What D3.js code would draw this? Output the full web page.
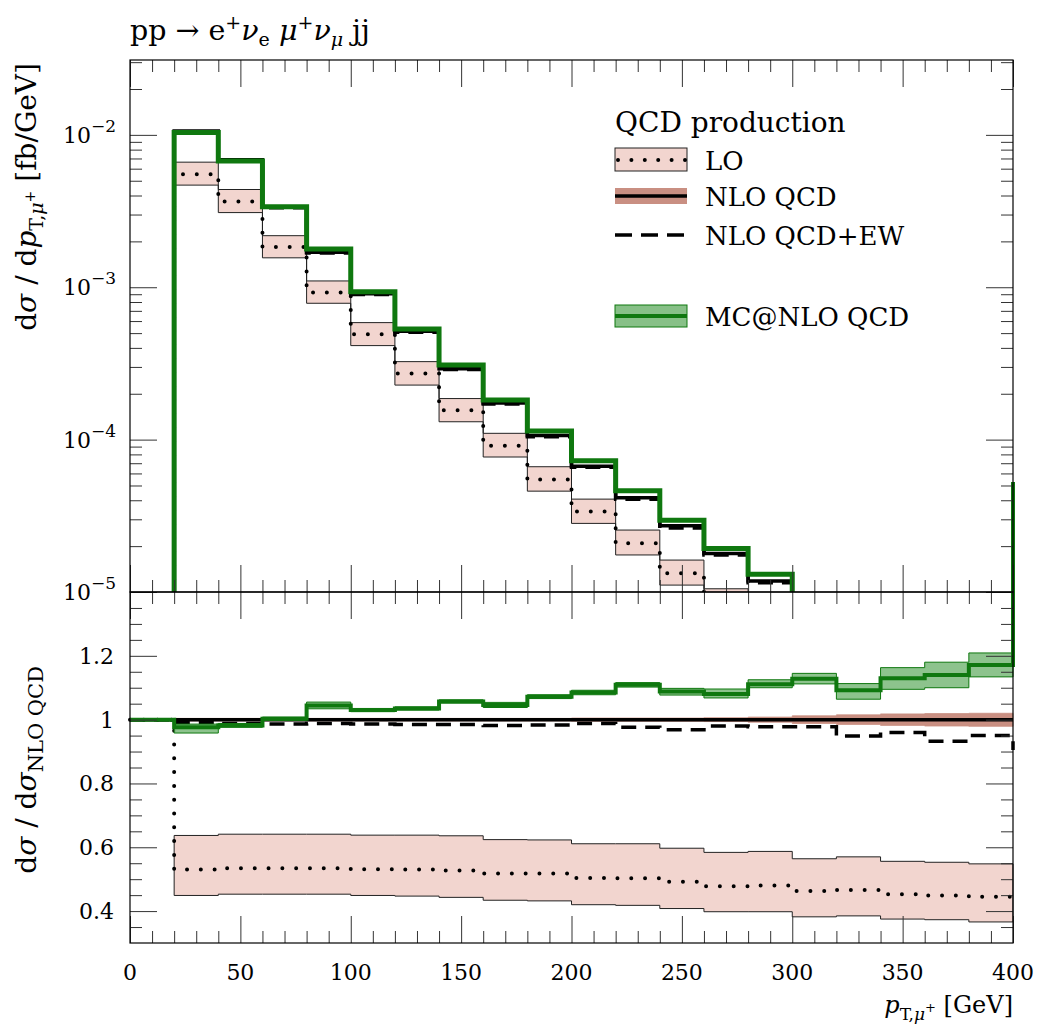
<!DOCTYPE html>
<html>
<head>
<meta charset="utf-8">
<script src="https://cdn.jsdelivr.net/npm/d3@7"></script>
<style>
  body { margin: 0; background: #fff; }
  text { font-family: "DejaVu Serif", "Liberation Serif", serif; fill: #000; }
</style>
</head>
<body>
<svg id="chart" width="1046" height="1033"></svg>
<script>

// bin edges in GeV, 20 bins
var binEdges = [0, 20, 40, 60, 80, 100, 120, 140, 160, 180, 200, 220, 240, 260, 280, 300, 320, 340, 360, 380, 400];

// upper panel, dsigma/dpT [fb/GeV]; null = empty bin
var mcUpper  = [null, 0.01035, 0.00675, 0.00338, 0.00178, 0.000935, 0.000532, 0.000309, 0.000182, 0.000114, 7.26e-5, 4.61e-5, 2.96e-5, 1.93e-5, 1.31e-5, 8.5e-6, 5.5e-6, 3.7e-6, 2.5e-6, 1.75e-6];
var nloUpper = [null, 0.01060, 0.00687, 0.00337, 0.00170, 0.000908, 0.000514, 0.000292, 0.000174, 1.063e-4, 6.69e-5, 4.16e-5, 2.72e-5, 1.79e-5, 1.18e-5, 7.5e-6, 5.0e-6, 3.3e-6, 2.2e-6, 1.5e-6];
var ewUpper  = [null, 0.01050, 0.00679, 0.00333, 0.00168, 0.000895, 0.000506, 0.000288, 0.000171, 1.045e-4, 6.58e-5, 4.06e-5, 2.63e-5, 1.75e-5, 1.15e-5, 7.3e-6, 4.75e-6, 3.15e-6, 2.05e-6, 1.42e-6];
var loUpper  = [null, 0.00552, 0.00365, 0.00184, 0.000923, 0.000491, 0.000272, 0.000156, 9.12e-5, 5.48e-5, 3.37e-5, 2.09e-5, 1.33e-5, 8.6e-6, 5.7e-6, 3.5e-6, 2.3e-6, 1.5e-6, 1.0e-6, 0.67e-6];
var loUpperHi = [null, 0.00662, 0.00438, 0.00218, 0.00110, 0.000586, 0.000325, 0.000186, 1.10e-4, 6.64e-5, 4.07e-5, 2.55e-5, 1.62e-5, 1.05e-5, 6.9e-6, 4.2e-6, 2.8e-6, 1.8e-6, 1.2e-6, 0.82e-6];
var loUpperLo = [null, 0.00468, 0.00309, 0.00156, 0.000785, 0.000414, 0.000228, 0.000131, 7.69e-5, 4.59e-5, 2.82e-5, 1.75e-5, 1.11e-5, 7.1e-6, 4.7e-6, 2.9e-6, 1.9e-6, 1.25e-6, 0.83e-6, 0.55e-6];

// lower panel, ratio to NLO QCD
var mcRatio   = [1, 0.976, 0.982, 1.003, 1.044, 1.030, 1.035, 1.057, 1.046, 1.072, 1.085, 1.109, 1.088, 1.080, 1.111, 1.128, 1.092, 1.130, 1.140, 1.171];
var mcRatioLo = [1, 0.958, 0.976, 0.998, 1.034, 1.025, 1.030, 1.052, 1.038, 1.066, 1.078, 1.102, 1.077, 1.068, 1.100, 1.112, 1.064, 1.095, 1.100, 1.134];
var mcRatioHi = [1, 0.986, 0.988, 1.008, 1.055, 1.035, 1.040, 1.062, 1.054, 1.078, 1.092, 1.116, 1.098, 1.096, 1.125, 1.145, 1.113, 1.163, 1.180, 1.209];
var mcRatioEnd = 1.745;

var nloRatio   = [1, 1, 1, 1, 1, 1, 1, 1, 1, 1, 1, 1, 1, 1, 1, 1, 1, 1, 1, 1];
var nloRatioLo = [null, 0.996, 0.996, 0.996, 0.996, 0.996, 0.996, 0.996, 0.996, 0.996, 0.995, 0.995, 0.995, 0.994, 0.992, 0.988, 0.985, 0.982, 0.980, 0.979];
var nloRatioHi = [null, 1.004, 1.004, 1.004, 1.004, 1.004, 1.004, 1.004, 1.004, 1.004, 1.005, 1.005, 1.005, 1.006, 1.008, 1.012, 1.015, 1.018, 1.019, 1.020];

var ewRatio = [1, 0.990, 0.988, 0.986, 0.988, 0.986, 0.985, 0.985, 0.982, 0.983, 0.988, 0.976, 0.968, 0.980, 0.978, 0.978, 0.949, 0.960, 0.932, 0.950];
var ewRatioEnd = 0.905;

var loRatio   = [1, 0.530, 0.534, 0.534, 0.534, 0.531, 0.530, 0.527, 0.518, 0.518, 0.504, 0.503, 0.492, 0.478, 0.480, 0.463, 0.466, 0.453, 0.449, 0.445];
var loRatioHi = [null, 0.637, 0.641, 0.641, 0.641, 0.638, 0.638, 0.636, 0.624, 0.623, 0.611, 0.611, 0.597, 0.584, 0.587, 0.564, 0.570, 0.556, 0.553, 0.548];
var loRatioLo = [null, 0.449, 0.453, 0.453, 0.453, 0.449, 0.447, 0.443, 0.434, 0.432, 0.420, 0.418, 0.408, 0.398, 0.398, 0.382, 0.385, 0.375, 0.373, 0.366];

var xMajor = [0, 50, 100, 150, 200, 250, 300, 350, 400];
var upperDecades = [1e-5, 1e-4, 1e-3, 1e-2];
var upperLabels = ["\u22125", "\u22124", "\u22123", "\u22122"];
var ratioTicks = [0.4, 0.6, 0.8, 1, 1.2];
var ratioLabels = ["0.4", "0.6", "0.8", "1", "1.2"];

var legendItems = ["LO", "NLO QCD", "NLO QCD+EW", "MC@NLO QCD"];

var GREEN = "#0f780f", GREEN_BAND = "#87c087", PINK = "#f2d5cf", BROWN = "#c98f82";

var svg = d3.select("#chart");

var x = d3.scaleLinear().domain([0, 400]).range([130, 1013]);
var yTop = d3.scaleLog().domain([1e-5, 0.031]).range([592, 60]);
var yRat = d3.scaleLinear().domain([0.3, 1.4]).range([943, 592]);

svg.append("defs").append("clipPath").attr("id", "clipTop")
  .append("rect").attr("x", x(0)).attr("y", yTop.range()[1])
  .attr("width", x(400) - x(0)).attr("height", yTop.range()[0] - yTop.range()[1]);

// step line points from per-bin values
function stepPts(vals, floor) {
  var pts = [];
  vals.forEach(function(v, i) {
    if (v == null) return;
    if (pts.length == 0 && floor != null) pts.push([binEdges[i], floor]);
    pts.push([binEdges[i], v]);
    pts.push([binEdges[i + 1], v]);
  });
  return pts;
}
function bandPts(lo, hi) {
  return stepPts(hi).concat(stepPts(lo).reverse());
}

function drawPanel(g, y, d) {
  var line = d3.line().x(function(p) { return x(p[0]); }).y(function(p) { return y(p[1]); });

  g.append("path").attr("d", line(bandPts(d.loLo, d.loHi)) + "Z")
    .attr("fill", PINK).attr("stroke", "#222").attr("stroke-width", 1);
  g.append("path").attr("d", line(stepPts(d.lo, d.floor)))
    .attr("fill", "none").attr("stroke", "#000").attr("stroke-width", 4)
    .attr("stroke-linecap", "round").attr("stroke-dasharray", "0 13.8");

  if (d.nloLo) {
    g.append("path").attr("d", line(bandPts(d.nloLo, d.nloHi)) + "Z")
      .attr("fill", BROWN).attr("stroke", BROWN).attr("stroke-width", 0.8);
  }
  g.append("path").attr("d", line(stepPts(d.nlo, d.floor)))
    .attr("fill", "none").attr("stroke", "#000").attr("stroke-width", 3.5);

  var ew = stepPts(d.ew, d.floor);
  if (d.ewEnd != null) ew.push([400, d.ewEnd]);
  g.append("path").attr("d", line(ew))
    .attr("fill", "none").attr("stroke", "#000").attr("stroke-width", 3.5)
    .attr("stroke-dasharray", "15 9");

  if (d.mcLo) {
    g.append("path").attr("d", line(bandPts(d.mcLo, d.mcHi)) + "Z")
      .attr("fill", GREEN_BAND).attr("fill-opacity", 0.95).attr("stroke", GREEN).attr("stroke-width", 1);
  }
  var mc = stepPts(d.mc, d.floor);
  if (d.mcEnd != null) mc.push([400, d.mcEnd]);
  g.append("path").attr("d", line(mc))
    .attr("fill", "none").attr("stroke", GREEN).attr("stroke-width", d.mcWidth);
}

// upper panel
var gTop = svg.append("g").attr("clip-path", "url(#clipTop)");
drawPanel(gTop, yTop, {
  floor: 1e-7,
  lo: loUpper, loLo: loUpperLo, loHi: loUpperHi,
  nlo: nloUpper, ew: ewUpper, mc: mcUpper, mcWidth: 5
});

// lower panel
var gBot = svg.append("g");
drawPanel(gBot, yRat, {
  lo: loRatio, loLo: loRatioLo, loHi: loRatioHi,
  nlo: nloRatio, nloLo: nloRatioLo, nloHi: nloRatioHi,
  ew: ewRatio, ewEnd: ewRatioEnd,
  mc: mcRatio, mcLo: mcRatioLo, mcHi: mcRatioHi, mcEnd: mcRatioEnd, mcWidth: 4
});

// ticks
var xMinor = d3.range(0, 401, 10).filter(function(v) { return v % 50 != 0; });
var logMinor = [];
upperDecades.forEach(function(dec) {
  d3.range(2, 10).forEach(function(k) { if (dec * k < yTop.domain()[1]) logMinor.push(dec * k); });
});
var ratMinor = d3.range(0.35, 1.4, 0.05).filter(function(v) {
  return Math.abs(v / 0.2 - Math.round(v / 0.2)) > 0.01;
});

function ticks(axis, transform) {
  var g = svg.append("g").attr("transform", transform).call(axis);
  g.select(".domain").remove();
  g.selectAll("text").remove();
  g.selectAll("line").attr("stroke", "#333").attr("stroke-width", 1);
}
function tickPair(make, scale, major, minor, transform) {
  ticks(make(scale).tickValues(major).tickSize(-27), transform);
  ticks(make(scale).tickValues(minor).tickSize(-12), transform);
}
tickPair(d3.axisTop, x, xMajor, xMinor, "translate(0," + yTop.range()[1] + ")");
tickPair(d3.axisBottom, x, xMajor, xMinor, "translate(0," + yTop.range()[0] + ")");
tickPair(d3.axisTop, x, xMajor, xMinor, "translate(0," + yRat.range()[1] + ")");
tickPair(d3.axisBottom, x, xMajor, xMinor, "translate(0," + yRat.range()[0] + ")");
tickPair(d3.axisLeft, yTop, upperDecades, logMinor, "translate(" + x(0) + ",0)");
tickPair(d3.axisRight, yTop, upperDecades, logMinor, "translate(" + x(400) + ",0)");
tickPair(d3.axisLeft, yRat, ratioTicks, ratMinor, "translate(" + x(0) + ",0)");
tickPair(d3.axisRight, yRat, ratioTicks, ratMinor, "translate(" + x(400) + ",0)");

// frames
svg.append("rect").attr("x", x(0)).attr("y", yTop.range()[1])
  .attr("width", x(400) - x(0)).attr("height", yTop.range()[0] - yTop.range()[1])
  .attr("fill", "none").attr("stroke", "#000").attr("stroke-width", 1.2);
svg.append("rect").attr("x", x(0)).attr("y", yRat.range()[1])
  .attr("width", x(400) - x(0)).attr("height", yRat.range()[0] - yRat.range()[1])
  .attr("fill", "none").attr("stroke", "#000").attr("stroke-width", 1.2);

// tick labels
svg.selectAll(".xlab").data(xMajor).enter().append("text")
  .attr("x", function(d) { return x(d); }).attr("y", 980)
  .attr("text-anchor", "middle").attr("font-size", 22)
  .text(function(d) { return d; });

upperDecades.forEach(function(dec, i) {
  var t = svg.append("text").attr("x", 116).attr("y", yTop(dec) + 8)
    .attr("text-anchor", "end").attr("font-size", 22);
  t.append("tspan").text("10");
  t.append("tspan").attr("dy", -11).attr("font-size", 17).text(upperLabels[i]);
});

svg.selectAll(".rlab").data(ratioTicks).enter().append("text")
  .attr("x", 114).attr("y", function(d) { return yRat(d) + 8; })
  .attr("text-anchor", "end").attr("font-size", 22)
  .text(function(d, i) { return ratioLabels[i]; });

// rich text with sub/superscripts
function rich(parent, segs, size) {
  var t = parent.append("text").attr("font-size", size);
  var cur = 0;
  segs.forEach(function(s) {
    var shift = s.shift || 0;
    var ts = t.append("tspan").text(s.t).attr("dy", shift - cur);
    if (s.it) ts.attr("font-style", "italic");
    if (s.size) ts.attr("font-size", s.size);
    cur = shift;
  });
  return t;
}

rich(svg, [
  {t: "pp \u2192 e"}, {t: "+", shift: -11, size: 19}, {t: "\u03bd", it: true},
  {t: "e", shift: 6, size: 19}, {t: " "}, {t: "\u03bc", it: true},
  {t: "+", shift: -11, size: 19}, {t: "\u03bd", it: true}, {t: "\u03bc", shift: 6, size: 19, it: true},
  {t: " jj"}
], 28.5).attr("x", 130).attr("y", 40);

rich(svg, [
  {t: "d"}, {t: "\u03c3", it: true}, {t: " / d"}, {t: "p", it: true},
  {t: "T,", shift: 7, size: 19}, {t: "\u03bc", shift: 7, size: 19, it: true},
  {t: "+", shift: -1, size: 14}, {t: " [fb/GeV]"}
], 28).attr("text-anchor", "end").attr("transform", "translate(36,63) rotate(-90)");

rich(svg, [
  {t: "d"}, {t: "\u03c3", it: true}, {t: " / d"}, {t: "\u03c3", it: true},
  {t: "NLO QCD", shift: 7, size: 21}
], 28).attr("text-anchor", "end").attr("transform", "translate(36,666) rotate(-90)");

rich(svg, [
  {t: "p", it: true}, {t: "T,", shift: 7, size: 17}, {t: "\u03bc", shift: 7, size: 17, it: true},
  {t: "+", shift: -1, size: 13}, {t: " [GeV]"}
], 24).attr("text-anchor", "end").attr("x", 1013).attr("y", 1013);

// legend
var lg = svg.append("g");
lg.append("text").attr("x", 615).attr("y", 132).attr("font-size", 28).text("QCD production");
var lx0 = 615, lx1 = 687, tx = 705;
var rowY = [160, 196, 235, 316];

lg.append("rect").attr("x", lx0).attr("y", rowY[0] - 12).attr("width", lx1 - lx0).attr("height", 23)
  .attr("fill", PINK).attr("stroke", "#222").attr("stroke-width", 1);
lg.append("line").attr("x1", lx0 + 3).attr("x2", lx1).attr("y1", rowY[0]).attr("y2", rowY[0])
  .attr("stroke", "#000").attr("stroke-width", 4).attr("stroke-linecap", "round").attr("stroke-dasharray", "0 13.4");

lg.append("rect").attr("x", lx0).attr("y", rowY[1] - 8).attr("width", lx1 - lx0).attr("height", 16)
  .attr("fill", BROWN);
lg.append("line").attr("x1", lx0).attr("x2", lx1).attr("y1", rowY[1]).attr("y2", rowY[1])
  .attr("stroke", "#000").attr("stroke-width", 3.5);

lg.append("line").attr("x1", lx0).attr("x2", lx1).attr("y1", rowY[2]).attr("y2", rowY[2])
  .attr("stroke", "#000").attr("stroke-width", 3.5).attr("stroke-dasharray", "17 9");

lg.append("rect").attr("x", lx0).attr("y", rowY[3] - 11).attr("width", lx1 - lx0).attr("height", 22)
  .attr("fill", GREEN_BAND).attr("stroke", GREEN).attr("stroke-width", 1);
lg.append("line").attr("x1", lx0).attr("x2", lx1).attr("y1", rowY[3]).attr("y2", rowY[3])
  .attr("stroke", GREEN).attr("stroke-width", 4);

lg.selectAll(".lt").data(legendItems).enter().append("text")
  .attr("x", tx).attr("y", function(d, i) { return rowY[i] + 10; })
  .attr("font-size", 26).text(function(d) { return d; });

</script>
</body>
</html>
